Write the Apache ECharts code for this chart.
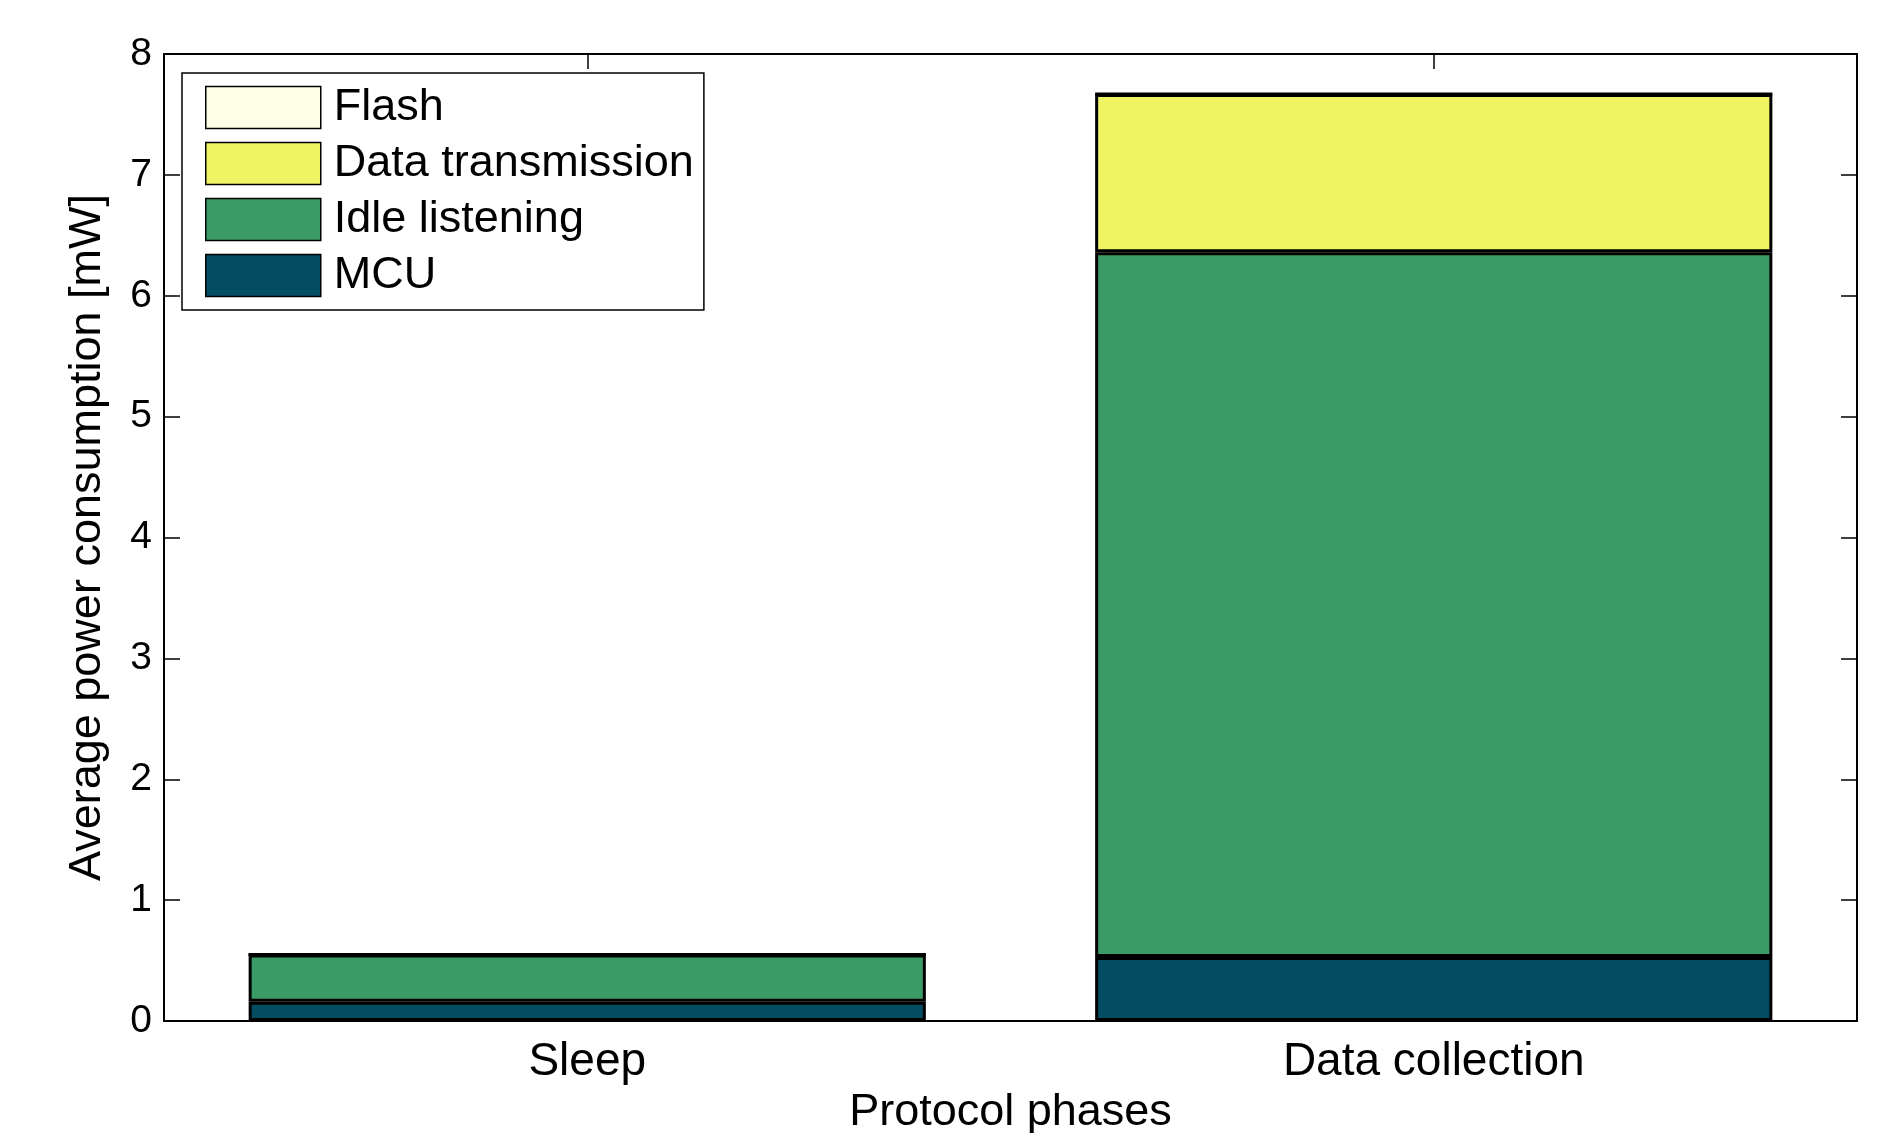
<!DOCTYPE html>
<html>
<head>
<meta charset="utf-8">
<script src="https://cdn.jsdelivr.net/npm/echarts@6/dist/echarts.min.js"></script>
<style>
html,body{margin:0;padding:0;background:#fff;}
#chart{width:1897px;height:1133px;}
</style>
</head>
<body>
<div id="chart"></div>
<script>
const categories = ['Sleep', 'Data collection'];
const mcu = [0.16, 0.53];
const idleListening = [0.39, 5.83];
const dataTransmission = [0.0, 1.31];
const flash = [0.0, 0.0];
const yTicks = [0, 1, 2, 3, 4, 5, 6, 7, 8];

const FONT = '"Liberation Sans", Arial, Helvetica, sans-serif';
const chart = echarts.init(document.getElementById('chart'));

function barSeries(name, data, color) {
  return {
    name: name,
    type: 'bar',
    stack: 'total',
    data: data,
    barCategoryGap: '20%',
    itemStyle: { color: color, borderColor: '#000', borderWidth: 3 },
    emphasis: { disabled: true }
  };
}

chart.setOption({
  animation: false,
  backgroundColor: '#fff',
  textStyle: { fontFamily: FONT, color: '#000' },
  grid: { left: 164, right: 40, top: 54, bottom: 112, containLabel: false, outerBoundsMode: 'none' },
  legend: {
    orient: 'vertical',
    left: 182,
    top: 73,
    data: ['Flash', 'Data transmission', 'Idle listening', 'MCU'],
    icon: 'rect',
    itemWidth: 115,
    itemHeight: 42,
    itemGap: 11,
    padding: [12, 10, 12, 23],
    backgroundColor: '#fff',
    borderColor: '#000',
    borderWidth: 1.5,
    borderRadius: 0,
    textStyle: { fontFamily: FONT, fontSize: 45, lineHeight: 42, color: '#000', padding: [0, 0, 0, 8] },
    itemStyle: { borderColor: '#000', borderWidth: 1.5 }
  },
  xAxis: [
    {
      type: 'category',
      data: categories,
      position: 'bottom',
      name: 'Protocol phases',
      nameLocation: 'middle',
      nameGap: 68,
      nameTextStyle: { fontFamily: FONT, fontSize: 45, color: '#000' },
      axisLine: { show: true, lineStyle: { color: '#000', width: 2 } },
      axisTick: { show: true, inside: true, alignWithLabel: true, length: 15, lineStyle: { color: '#000', width: 1.5 } },
      axisLabel: { fontFamily: FONT, fontSize: 46, color: '#000', margin: 18 },
      splitLine: { show: false }
    },
    {
      type: 'category',
      data: categories,
      position: 'top',
      axisLine: { show: true, onZero: false, lineStyle: { color: '#000', width: 2 } },
      axisTick: { show: true, inside: true, alignWithLabel: true, length: 15, lineStyle: { color: '#000', width: 1.5 } },
      axisLabel: { show: false },
      splitLine: { show: false }
    }
  ],
  yAxis: [
    {
      type: 'value',
      min: yTicks[0],
      max: yTicks[yTicks.length - 1],
      interval: 1,
      position: 'left',
      name: 'Average power consumption [mW]',
      nameLocation: 'middle',
      nameGap: 54,
      nameTextStyle: { fontFamily: FONT, fontSize: 45, color: '#000' },
      axisLine: { show: true, lineStyle: { color: '#000', width: 2 } },
      axisTick: { show: true, inside: true, length: 16, lineStyle: { color: '#000', width: 1.5 } },
      axisLabel: { fontFamily: FONT, fontSize: 39, color: '#000', margin: 12 },
      splitLine: { show: false }
    },
    {
      type: 'value',
      min: yTicks[0],
      max: yTicks[yTicks.length - 1],
      interval: 1,
      position: 'right',
      axisLine: { show: true, onZero: false, lineStyle: { color: '#000', width: 2 } },
      axisTick: { show: true, inside: true, length: 16, lineStyle: { color: '#000', width: 1.5 } },
      axisLabel: { show: false },
      splitLine: { show: false }
    }
  ],
  series: [
    barSeries('MCU', mcu, '#034d63'),
    barSeries('Idle listening', idleListening, '#3a9b66'),
    barSeries('Data transmission', dataTransmission, '#eff464'),
    barSeries('Flash', flash, '#ffffe5')
  ]
});
</script>
</body>
</html>
